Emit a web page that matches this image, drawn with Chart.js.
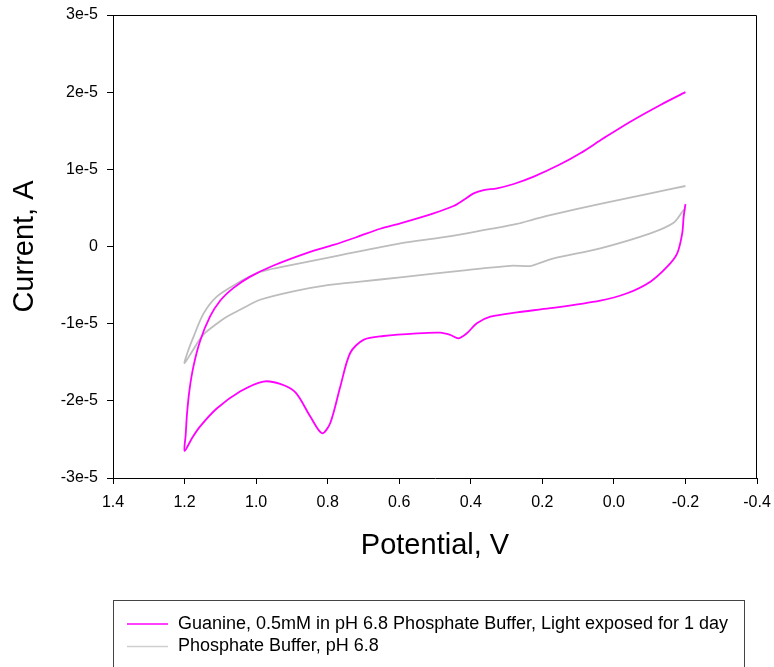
<!DOCTYPE html>
<html>
<head>
<meta charset="utf-8">
<script src="https://cdn.jsdelivr.net/npm/chart.js@4"></script>
<style>
  body { margin: 0; background: #fff; }
  #cv { display: block; }
</style>
</head>
<body>
<canvas id="cv" width="774" height="667"></canvas>
<script>
  // potential (V) and current (A), in sweep order
  const guanineV = [
    -0.2, -0.13, -0.046, 0.029, 0.094, 0.15, 0.224, 0.28, 0.327,
    0.364, 0.392, 0.42, 0.448, 0.504, 0.597, 0.653, 0.72, 0.784, 0.849, 0.953,
    1.02, 1.064, 1.1, 1.129, 1.157, 1.175, 1.186, 1.193, 1.197, 1.2,
    1.18, 1.157, 1.11, 1.045, 0.98, 0.933, 0.89, 0.849, 0.816, 0.793,
    0.765, 0.737, 0.7, 0.644, 0.55, 0.485, 0.457, 0.434, 0.411, 0.383,
    0.345, 0.271, 0.178, 0.038, -0.037, -0.102, -0.149, -0.177, -0.191, -0.195,
    -0.2,
  ];
  const guanineI = [
    2.0e-5, 1.834e-5, 1.617e-5, 1.402e-5, 1.208e-5, 1.065e-5, 0.905e-5, 0.81e-5, 0.754e-5,
    0.732e-5, 0.689e-5, 0.603e-5, 0.525e-5, 0.43e-5, 0.3e-5, 0.23e-5, 0.12e-5, 0.02e-5, -0.07e-5, -0.25e-5,
    -0.4e-5, -0.54e-5, -0.7e-5, -0.91e-5, -1.23e-5, -1.55e-5, -1.85e-5, -2.16e-5, -2.45e-5, -2.65e-5,
    -2.49e-5, -2.335e-5, -2.1e-5, -1.88e-5, -1.75e-5, -1.78e-5, -1.89e-5, -2.2e-5, -2.42e-5, -2.29e-5,
    -1.82e-5, -1.38e-5, -1.21e-5, -1.16e-5, -1.125e-5, -1.117e-5, -1.147e-5, -1.19e-5, -1.125e-5, -0.995e-5,
    -0.91e-5, -0.853e-5, -0.8e-5, -0.7e-5, -0.606e-5, -0.456e-5, -0.262e-5, -0.088e-5, 0.171e-5, 0.386e-5,
    0.55e-5,
  ];

  const bufferV = [
    -0.2, -0.102, 0.038, 0.178, 0.224, 0.271, 0.411, 0.485, 0.597, 0.784,
    0.924, 0.989, 1.054, 1.11, 1.147, 1.175, 1.19, 1.2,
    1.175, 1.147, 1.11, 1.082, 1.045, 0.989, 0.896, 0.8, 0.709, 0.597,
    0.411, 0.29, 0.234, 0.215, 0.168, 0.038, -0.102, -0.167, -0.195, -0.2,
  ];
  const bufferI = [
    0.784e-5, 0.689e-5, 0.551e-5, 0.408e-5, 0.352e-5, 0.292e-5, 0.171e-5, 0.114e-5, 0.041e-5, -0.132e-5,
    -0.262e-5, -0.33e-5, -0.48e-5, -0.65e-5, -0.87e-5, -1.17e-5, -1.35e-5, -1.51e-5,
    -1.33e-5, -1.14e-5, -1.0e-5, -0.91e-5, -0.82e-5, -0.69e-5, -0.58e-5, -0.5e-5, -0.455e-5, -0.4e-5,
    -0.305e-5, -0.25e-5, -0.253e-5, -0.227e-5, -0.153e-5, -0.023e-5, 0.171e-5, 0.308e-5, 0.473e-5, 0.48e-5,
  ];

  const seriesLabels = [
    "Guanine, 0.5mM in pH 6.8 Phosphate Buffer, Light exposed for 1 day",
    "Phosphate Buffer, pH 6.8",
  ];

  const FONT = "'Liberation Sans', Arial, sans-serif";

  const toPoints = (xs, ys) => xs.map((x, i) => ({ x: x, y: ys[i] }));

  // box round the plot area and the legend box under it
  const framePlugin = {
    id: "frame",
    afterDraw(chart) {
      const c = chart.ctx;
      const a = chart.chartArea;
      c.save();
      c.strokeStyle = "#000";
      c.lineWidth = 1;
      c.beginPath();
      c.moveTo(Math.round(a.left) + 0.5, Math.round(a.top) + 0.5);
      c.lineTo(Math.round(a.right) - 0.5, Math.round(a.top) + 0.5);
      c.lineTo(Math.round(a.right) - 0.5, Math.round(a.bottom) + 0.5);
      c.stroke();

      c.strokeStyle = "#444";
      c.strokeRect(113.5, 600.5, 631, 120);

      c.font = "18px " + FONT;
      c.textBaseline = "middle";
      c.fillStyle = "#000";
      const legendColors = ["#ff00ff", "#cfcfcf"];
      chart.data.datasets.forEach((ds, i) => {
        const y = 624 + i * 22.5;
        c.strokeStyle = legendColors[i];
        c.lineWidth = 1.5;
        c.beginPath();
        c.moveTo(127, y);
        c.lineTo(168, y);
        c.stroke();
        c.fillText(ds.label, 178, y);
      });
      c.restore();
    },
  };

  new Chart(document.getElementById("cv"), {
    type: "scatter",
    data: {
      datasets: [
        {
          label: seriesLabels[0],
          data: toPoints(guanineV, guanineI),
          showLine: true,
          borderColor: "#ff00ff",
          borderWidth: 1.8,
          pointRadius: 0,
          tension: 0.3,
        },
        {
          label: seriesLabels[1],
          data: toPoints(bufferV, bufferI),
          showLine: true,
          borderColor: "#bdbdbd",
          borderWidth: 1.8,
          pointRadius: 0,
          tension: 0.3,
        },
      ],
    },
    options: {
      responsive: false,
      animation: false,
      layout: {
        padding: { left: 7.6, right: 17, top: 15, bottom: 103.6 },
      },
      scales: {
        x: {
          type: "linear",
          reverse: true,
          min: -0.4,
          max: 1.4,
          afterFit: (s) => {
            s.height = 85.4;
            s.paddingLeft = 0;
            s.paddingRight = 0;
          },
          border: { color: "#000", width: 1 },
          grid: {
            drawOnChartArea: false,
            color: "#000",
            tickLength: 6,
          },
          ticks: {
            stepSize: 0.2,
            padding: 9,
            color: "#000",
            font: { family: FONT, size: 16 },
            callback: (v) => (Math.abs(v) < 1e-9 ? "0.0" : v.toFixed(1)),
          },
          title: {
            display: true,
            text: "Potential, V",
            color: "#000",
            padding: 0,
            font: { family: FONT, size: 29 },
          },
        },
        y: {
          min: -3e-5,
          max: 3e-5,
          afterFit: (s) => {
            s.width = 105.4;
            s.paddingTop = 0;
            s.paddingBottom = 0;
          },
          border: { color: "#000", width: 1 },
          grid: {
            drawOnChartArea: false,
            color: "#000",
            tickLength: 6,
          },
          ticks: {
            stepSize: 1e-5,
            padding: 9,
            color: "#000",
            font: { family: FONT, size: 16 },
            callback: (v) => {
              const n = Math.round(v / 1e-5);
              return n === 0 ? "0" : n + "e-5";
            },
          },
          title: {
            display: true,
            text: "Current, A",
            color: "#000",
            padding: 0,
            font: { family: FONT, size: 29 },
          },
        },
      },
      plugins: {
        legend: { display: false },
        tooltip: { enabled: false },
      },
    },
    plugins: [framePlugin],
  });
</script>
</body>
</html>
